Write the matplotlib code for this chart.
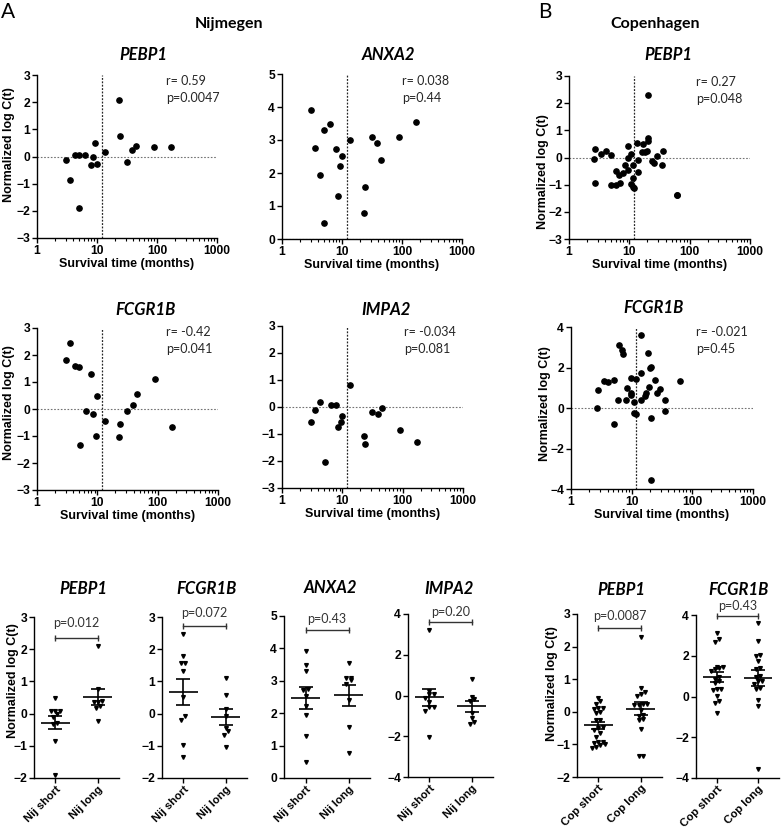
import matplotlib
matplotlib.use("Agg")
import matplotlib.pyplot as plt
import numpy as np


# -------------------------------------------------
# DATA
# -------------------------------------------------

# Nijmegen cohort: survival (months) shared by all genes
nij_surv = [3.0, 3.5, 4.3, 5.0, 5.1, 6.4, 8.0, 8.6, 9.4, 9.9,
            13.6, 23.3, 24.2, 31.6, 38.7, 45.2, 88.7, 170]
nij_pebp1 = [-0.12, -0.86, 0.07, 0.07, -1.90, 0.07, -0.31, 0.00, 0.49, -0.28,
             0.16, 2.09, 0.77, -0.22, 0.25, 0.39, 0.36, 0.36]
nij_anxa2 = [3.92, 2.76, 1.94, 3.29, 0.50, 3.49, 2.73, 1.31, 2.22, 2.52,
             3.01, 0.78, 1.57, 3.10, 2.91, 2.40, 3.08, 3.54]
nij_fcgr1b = [1.80, 2.46, 1.58, 1.56, -1.35, -0.08, 1.31, -0.20, -0.99, 0.50,
              -0.44, -1.04, -0.55, -0.07, 0.14, 0.57, 1.10, -0.67]
nij_impa2 = [-0.55, -0.12, 0.20, 3.20, -2.03, 0.07, 0.07, -0.74, -0.55, -0.34,
             0.82, -1.08, -1.38, -0.17, -0.26, -0.05, -0.84, -1.29]

# Copenhagen cohort
cop_pebp1_surv = [2.60, 2.66, 2.70, 3.35, 4.05, 4.97, 4.97, 5.94, 5.94, 6.83,
                  7.09, 7.95, 8.47, 9.62, 9.62, 9.38, 10.5, 11.4, 10.5, 11.4,
                  11.8, 11.4, 13.6, 13.9, 14.1, 17.1, 16.2, 18.2, 19.9, 20.4,
                  20.6, 20.6, 24.0, 25.3, 29.1, 35.7, 34.8, 61.7, 61.7]
cop_pebp1 = [-0.05, 0.32, -0.93, 0.13, 0.23, 0.09, -1.00, -1.03, -0.49, -0.65,
             -0.93, -0.56, -0.26, 0.43, -0.01, -0.47, 0.13, -0.26, -0.96, -1.08,
             -1.11, -0.77, 0.54, -0.10, -0.53, 0.48, 0.20, 0.20, 0.24, 2.29,
             0.73, 0.60, -0.13, -0.22, 0.04, 0.24, -0.26, -1.37, -1.37]

cop_fcgr1b_surv = [2.64, 2.75, 3.45, 4.06, 5.10, 5.10, 5.93, 6.09, 6.82, 7.08,
                   8.04, 8.35, 9.6, 9.6, 9.7, 10.9, 10.9, 11.6, 11.7, 14.0,
                   14.0, 14.0, 16.5, 17.1, 18.7, 19.5, 19.9, 21.2, 20.7, 20.7,
                   24.1, 25.7, 29.2, 34.8, 36.1, 62.2]
cop_fcgr1b = [0.02, 0.87, 1.33, 1.26, 1.39, -0.80, 0.38, 3.13, 2.84, 2.69,
              0.38, 0.97, 1.46, 0.74, 0.66, 0.31, -0.23, -0.31, 1.44, 3.62,
              1.75, 0.38, 0.61, 0.74, 2.70, 1.03, 1.98, 2.02, -0.48, -3.56,
              1.39, 0.75, 0.95, 0.41, -0.15, 1.33]

cutoff_months = 12

r_texts = ["r= 0.59", "r= 0.038", "r= 0.27", "r= -0.42", "r= -0.034", "r= -0.021"]
p_texts = ["p=0.0047", "p=0.44", "p=0.048", "p=0.041", "p=0.081", "p=0.45"]
group_p = ["p=0.012", "p=0.072", "p=0.43", "p=0.20", "p=0.0087", "p=0.43"]


# -------------------------------------------------
# FIGURE / HELPERS
# -------------------------------------------------

W, H = 781, 831
fig = plt.figure(figsize=(W / 100, H / 100), dpi=100)

BOLD = "Liberation Sans"
SOFT = ["Lato", "DejaVu Sans"]


def axes_px(x0, y0, x1, y1):
    return fig.add_axes([x0 / W, 1 - y1 / H, (x1 - x0) / W, (y1 - y0) / H])


def text_px(x, y, s, **kw):
    fig.text(x / W, 1 - y / H, s, **kw)


def style_axes(ax):
    for side in ["top", "right"]:
        ax.spines[side].set_visible(False)
    for side in ["left", "bottom"]:
        ax.spines[side].set_linewidth(1.0)
    ax.tick_params(which="major", length=3.5, width=1.0, pad=1.5,
                   labelsize=8.7)
    ax.tick_params(which="minor", length=2, width=0.8)
    for lbl in ax.get_xticklabels() + ax.get_yticklabels():
        lbl.set_fontfamily(BOLD)
        lbl.set_fontweight("bold")


def swarm(vals, ystep, xstep):
    vals = np.asarray(vals)
    order = np.argsort(vals)
    offs = np.zeros(len(vals))
    i = 0
    while i < len(order):
        j = i
        while j + 1 < len(order) and vals[order[j + 1]] - vals[order[i]] < ystep:
            j += 1
        n = j - i + 1
        offs[order[i:j + 1]] = (np.arange(n) - (n - 1) / 2) * xstep
        i = j + 1
    return offs


# -------------------------------------------------
# HEADERS
# -------------------------------------------------

text_px(8, 12, "A", fontsize=15, family=SOFT, ha="center", va="center")
text_px(545, 12, "B", fontsize=15, family=SOFT, ha="center", va="center")
text_px(229, 24, "Nijmegen", fontsize=11.5, family=SOFT, weight="bold",
        ha="center", va="center")
text_px(655, 24, "Copenhagen", fontsize=11.5, family=SOFT, weight="bold",
        ha="center", va="center")


# -------------------------------------------------
# SCATTER PANELS (expression vs survival)
# -------------------------------------------------

scatter_panels = [
    # rect, x, y, ylim, ystep, title, title pos, stat pos, ylabel pos
    ((37, 75, 217, 238), nij_surv, nij_pebp1, (-3, 3), 1, "PEBP1",
     (143, 55), (166, 81), (9, 145)),
    ((282, 74, 462, 239), nij_surv, nij_anxa2, (0, 5), 1, "ANXA2",
     (388, 55), (402, 81), None),
    ((569, 76, 750, 239), cop_pebp1_surv, cop_pebp1, (-3, 3), 1, "PEBP1",
     (668, 55), (696, 82), (543, 172)),
    ((37, 328, 218, 490), nij_surv, nij_fcgr1b, (-3, 3), 1, "FCGR1B",
     (146, 310), (166, 332), (9, 403)),
    ((282, 326, 463, 488), nij_surv, nij_impa2, (-3, 3), 1, "IMPA2",
     (386, 310), (404, 332), None),
    ((571, 327, 753, 489), cop_fcgr1b_surv, cop_fcgr1b, (-4, 4), 2, "FCGR1B",
     (654, 308), (696, 332), (545, 404)),
]

for k, (rect, xs, ys, ylim, ystep, title, tpos, spos, ylpos) in enumerate(scatter_panels):
    ax = axes_px(*rect)
    ax.set_xscale("log")
    ax.set_xlim(1, 1000)
    ax.set_ylim(*ylim)

    ax.axhline(0, color="0.45", lw=0.8, ls=(0, (1.5, 1.5)), zorder=1)
    ax.axvline(cutoff_months, color="0.15", lw=0.9, ls=(0, (1.5, 1.2)), zorder=1)
    ax.plot(xs, ys, "o", ms=3.8, color="black", zorder=3)

    ax.set_xticks([1, 10, 100, 1000])
    ax.set_xticklabels(["1", "10", "100", "1000"])
    ax.set_yticks(np.arange(ylim[0], ylim[1] + 0.1, ystep))
    ax.set_xlabel("Survival time (months)", fontsize=9, family=BOLD,
                  weight="bold", labelpad=1)
    style_axes(ax)

    text_px(tpos[0], tpos[1], title, fontsize=12, family=SOFT,
            weight="bold", style="italic", ha="center", va="center")
    text_px(spos[0], spos[1], r_texts[k], fontsize=9, family=SOFT,
            ha="left", va="center", color="0.15")
    text_px(spos[0], spos[1] + 17, p_texts[k], fontsize=9, family=SOFT,
            ha="left", va="center", color="0.15")
    if ylpos is not None:
        text_px(ylpos[0], ylpos[1], "Normalized log C(t)", fontsize=9,
                family=BOLD, weight="bold", rotation=90,
                ha="center", va="center")


# -------------------------------------------------
# GROUP PANELS (short vs long survival)
# -------------------------------------------------

group_panels = [
    # rect, x, y, ylim, ystep, title, title pos, labels, bracket y, p y, ylabel pos
    ((34, 617, 119, 778), nij_surv, nij_pebp1, (-2, 3), 1, "PEBP1", (83, 589),
     ["Nij short", "Nij long"], 2.35, 2.8, (13, 681)),
    ((162, 617, 247, 778), nij_surv, nij_fcgr1b, (-2, 3), 1, "FCGR1B", (207, 589),
     ["Nij short", "Nij long"], 2.72, 3.12, None),
    ((284, 616, 370, 778), nij_surv, nij_anxa2, (0, 5), 1, "ANXA2", (330, 588),
     ["Nij short", "Nij long"], 4.57, 4.92, None),
    ((408, 614, 493, 777), nij_surv, nij_impa2, (-4, 4), 2, "IMPA2", (449, 589),
     ["Nij short", "Nij long"], 3.62, 4.08, None),
    ((577, 614, 662, 777), cop_pebp1_surv, cop_pebp1, (-2, 3), 1, "PEBP1", (621, 590),
     ["Cop short", "Cop long"], 2.58, 2.95, (552, 684)),
    ((696, 615, 779, 778), cop_fcgr1b_surv, cop_fcgr1b, (-4, 4), 2, "FCGR1B", (739, 590),
     ["Cop short", "Cop long"], 3.95, 4.42, None),
]

for k, (rect, xs, ys, ylim, ystep, title, tpos, labels, by, py, ylpos) in enumerate(group_panels):
    ax = axes_px(*rect)
    ax.set_xlim(-0.5, 1.5)
    ax.set_ylim(*ylim)

    xs = np.asarray(xs)
    ys = np.asarray(ys)
    groups = [ys[xs < cutoff_months], ys[xs >= cutoff_months]]
    height_px = rect[3] - rect[1]
    ystep_data = 4.0 * (ylim[1] - ylim[0]) / height_px

    for pos, vals in enumerate(groups):
        offs = swarm(vals, ystep_data, 0.1)
        ax.plot(pos + offs, vals, "v", ms=2.7, color="black", zorder=3)
        mean = vals.mean()
        sem = vals.std(ddof=1) / np.sqrt(len(vals))
        ax.hlines(mean, pos - 0.34, pos + 0.34, color="black", lw=1.2, zorder=4)
        ax.errorbar(pos, mean, yerr=sem, color="black", lw=1.2,
                    capsize=5, capthick=1.2, zorder=4)

    # significance bracket
    ax.plot([0, 1], [by, by], color="0.2", lw=1.0, clip_on=False)
    ax.plot([0, 1], [by, by], "|", color="0.2", ms=5, mew=1.0, clip_on=False)
    ax.text(0.5, py, group_p[k], fontsize=9, family=SOFT, color="0.2",
            ha="center", va="center", clip_on=False)

    ax.set_xticks([0, 1])
    ax.set_xticklabels(labels, rotation=45, ha="right", rotation_mode="anchor")
    ax.set_yticks(np.arange(ylim[0], ylim[1] + 0.1, ystep))
    style_axes(ax)
    ax.tick_params(axis="x", labelsize=8.2, pad=1)

    text_px(tpos[0], tpos[1], title, fontsize=12, family=SOFT,
            weight="bold", style="italic", ha="center", va="center")
    if ylpos is not None:
        text_px(ylpos[0], ylpos[1], "Normalized log C(t)", fontsize=9,
                family=BOLD, weight="bold", rotation=90,
                ha="center", va="center")

fig.savefig("out.png", dpi=100)
